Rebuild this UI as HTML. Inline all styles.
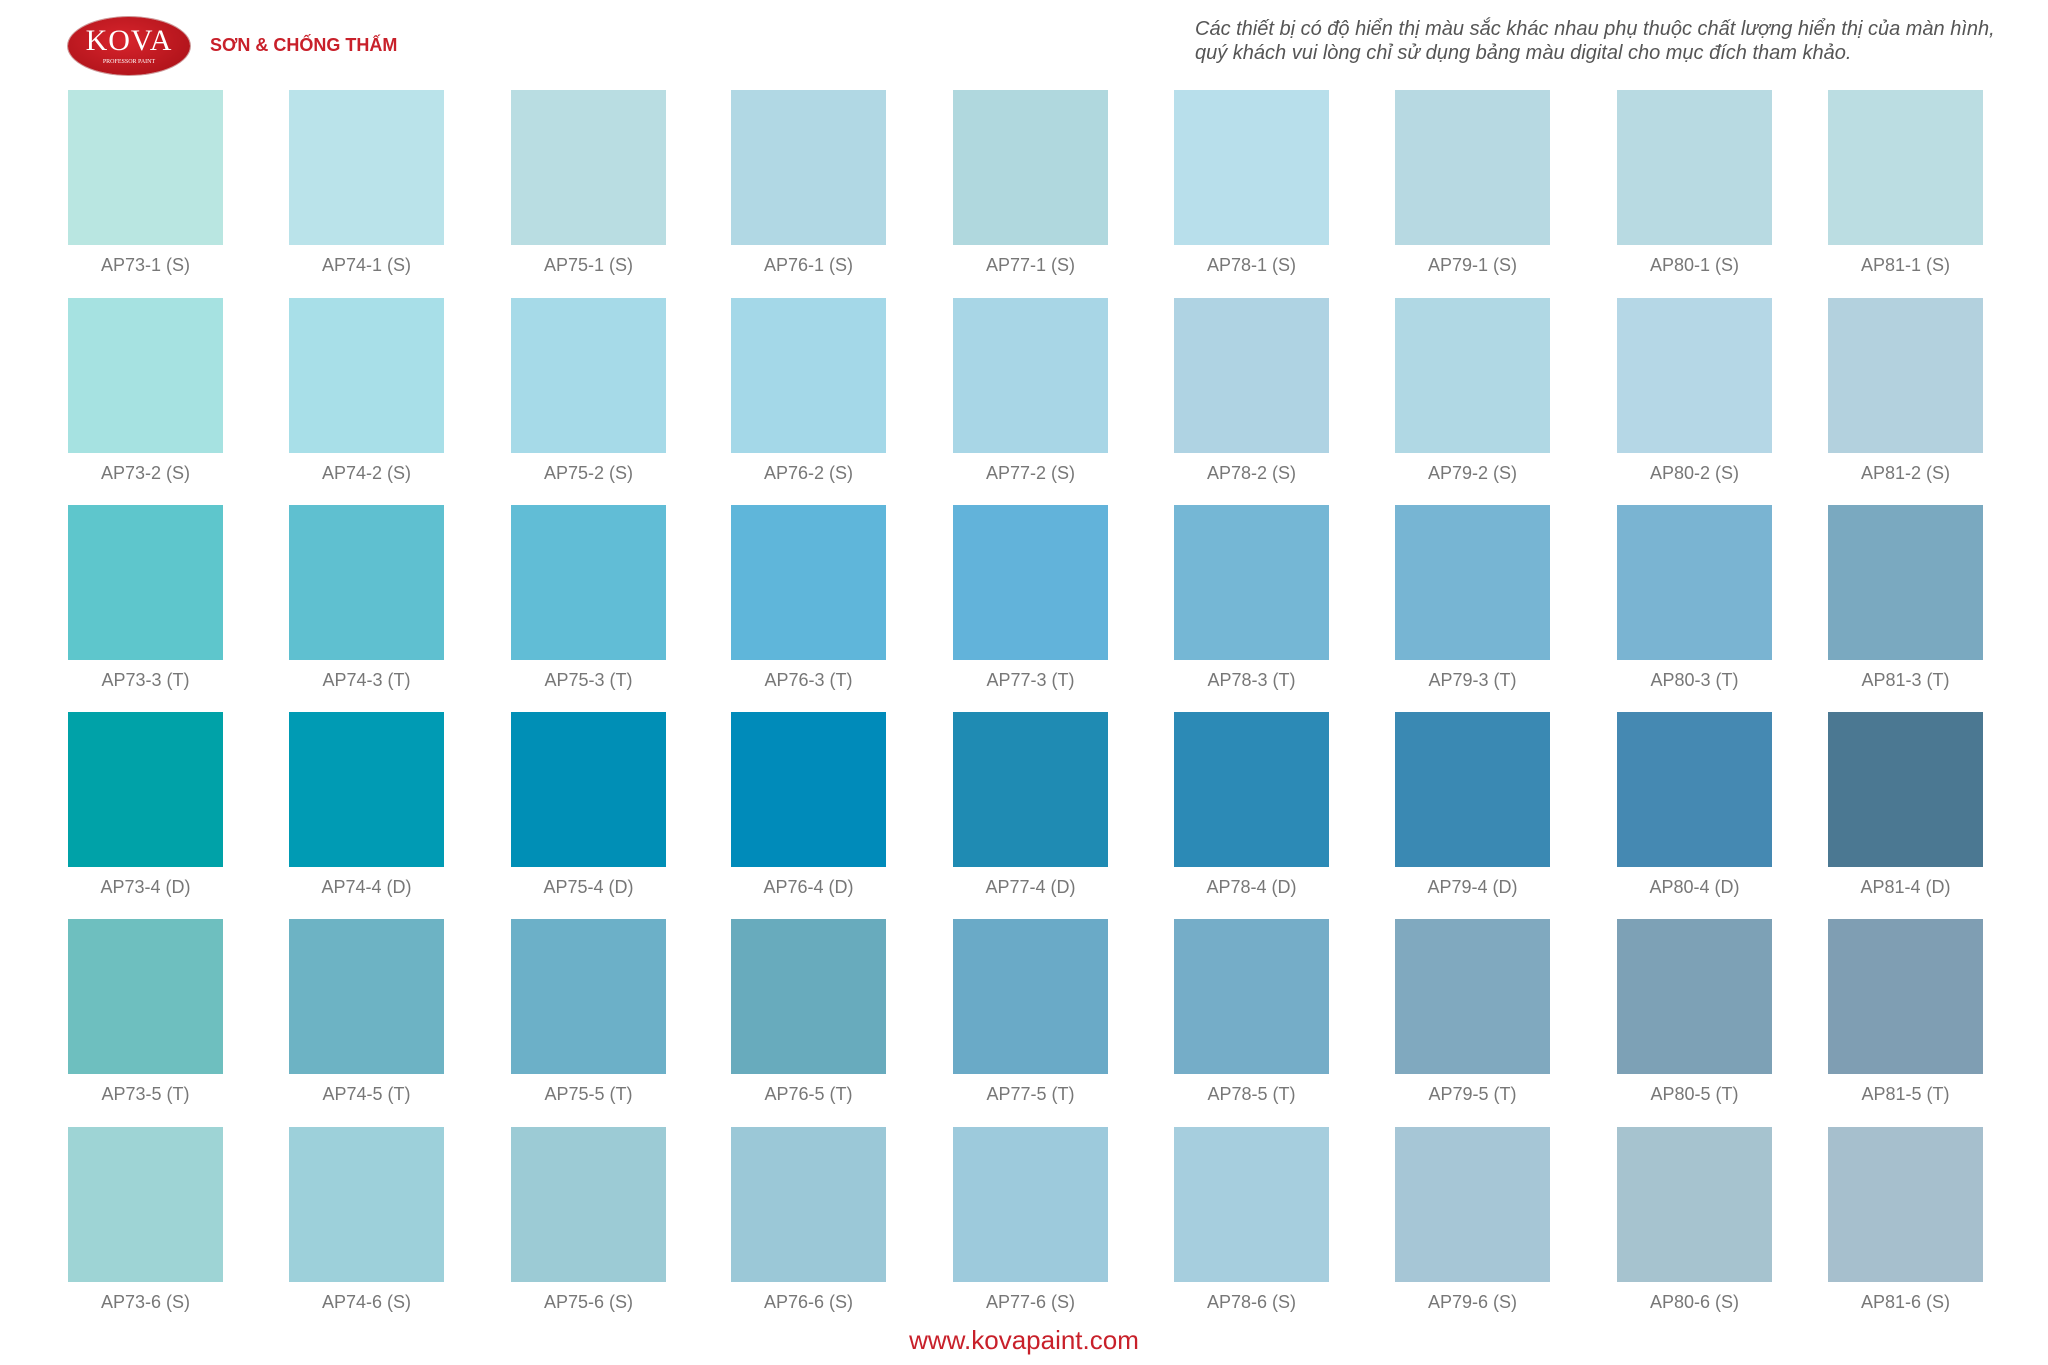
<!DOCTYPE html>
<html><head><meta charset="utf-8"><style>
body{margin:0;width:2048px;height:1365px;background:#fff;position:relative;overflow:hidden;font-family:"Liberation Sans",sans-serif}
.s{position:absolute;width:155px;height:155px}
.l{position:absolute;width:155px;text-align:center;font-size:18px;color:#777;line-height:20px}
</style></head><body>
<div style="position:absolute;left:68px;top:17px;width:122px;height:58px;border-radius:50%;background:radial-gradient(ellipse at 45% 40%,#d8242c,#a50f16);box-shadow:0 0 0 1px #c99"></div>
<div style="position:absolute;left:68px;top:24px;width:122px;text-align:center;font-family:'Liberation Serif',serif;font-size:30px;color:#fff;letter-spacing:1px">KOVA</div>
<div style="position:absolute;left:68px;top:59px;width:122px;text-align:center;font-family:'Liberation Serif',serif;font-size:6px;color:#fff">PROFESSOR PAINT</div>
<div style="position:absolute;left:210px;top:35px;font-size:18px;font-weight:bold;color:#c8202a">SƠN &amp; CHỐNG THẤM</div>
<div style="position:absolute;left:1195px;top:17px;font-size:20px;font-style:italic;color:#555;line-height:24px">Các thiết bị có độ hiển thị màu sắc khác nhau phụ thuộc chất lượng hiển thị của màn hình,<br>quý khách vui lòng chỉ sử dụng bảng màu digital cho mục đích tham khảo.</div>
<div id="g"></div>
<div style="position:absolute;left:0;width:2048px;top:1325px;text-align:center;font-size:26px;color:#c8202a">www.kovapaint.com</div>
<script>
var xs=[68,289,511,731,953,1174,1395,1617,1828],ys=[90,298,505,712,919,1127];
var suf=["S","S","T","D","T","S"];
var c=[
["#b9e6e1","#bae3ea","#b9dde2","#b1d8e4","#b0d8de","#b8dfeb","#b7d9e2","#b8dae2","#bbdde2"],
["#a6e2e1","#a8dfe8","#a6dae8","#a4d8e8","#a8d6e6","#afd3e3","#b0d8e4","#b5d7e6","#b3d1de"],
["#5ec6cc","#5fc0d0","#61bdd6","#5fb6da","#62b3da","#75b7d5","#77b5d3","#7ab4d2","#7aa9c0"],
["#00a2a8","#009bb4","#008fb6","#008bba","#1f8bb3","#2c8ab6","#3a89b3","#4589b2","#4b7892"],
["#6ebfbf","#6db3c4","#6cb0c8","#68abbd","#6aaac7","#75adc8","#80a9bf","#7da1b6","#7f9eb3"],
["#9ed4d5","#9dd0da","#9ccbd5","#9bc8d7","#9dcadc","#a6cede","#a6c6d6","#a6c3cf","#a6bfcd"]];
var h="";
for(var r=0;r<6;r++)for(var i=0;i<9;i++){
h+='<div class="s" style="left:'+xs[i]+'px;top:'+ys[r]+'px;background:'+c[r][i]+'"></div>';
h+='<div class="l" style="left:'+xs[i]+'px;top:'+(ys[r]+165)+'px">AP'+(73+i)+'-'+(r+1)+' ('+suf[r]+')</div>';}
document.getElementById("g").innerHTML=h;
</script>
</body></html>
